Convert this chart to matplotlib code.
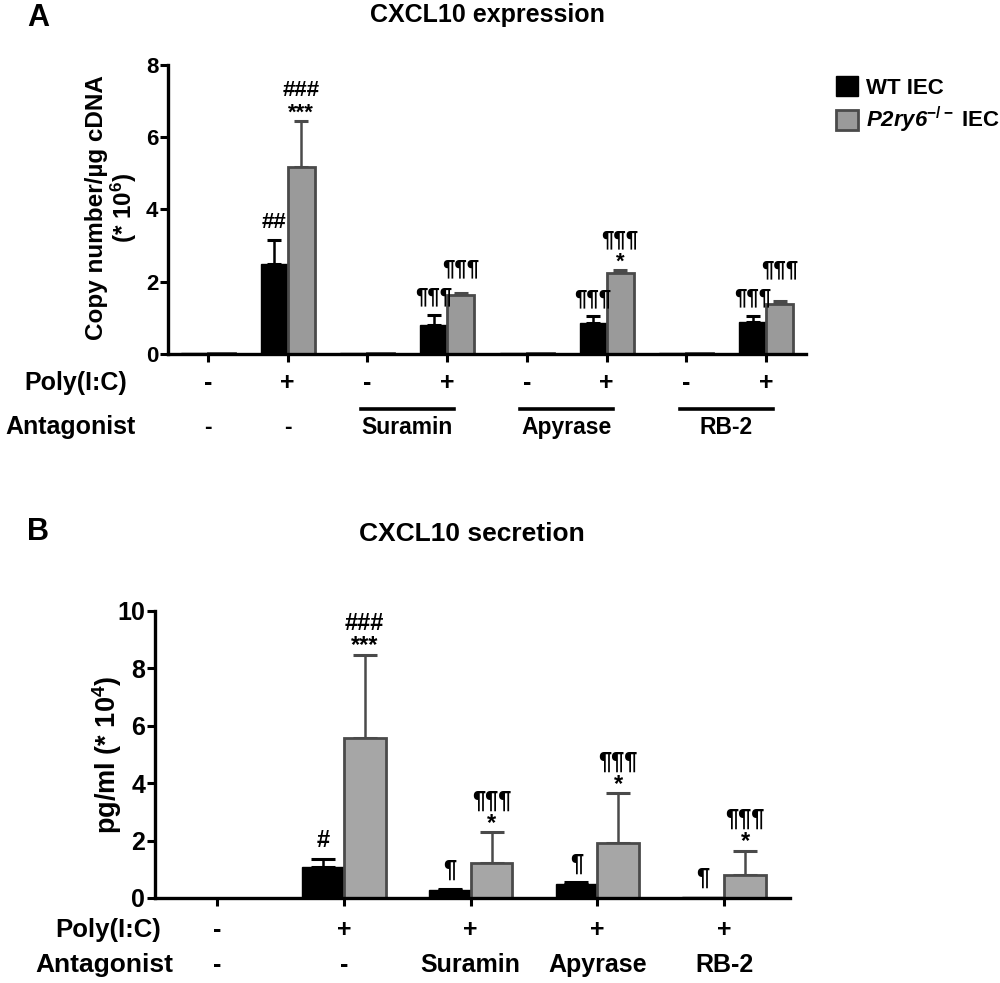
import numpy as np
import matplotlib
matplotlib.use("Agg")
import matplotlib.pyplot as plt
from matplotlib.patches import Patch

plt.rcParams['font.family'] = ['Liberation Sans', 'DejaVu Sans']
plt.rcParams['font.weight'] = 'bold'
plt.rcParams['mathtext.fontset'] = 'custom'
plt.rcParams['mathtext.rm'] = 'Liberation Sans:bold'
plt.rcParams['mathtext.bf'] = 'Liberation Sans:bold'
plt.rcParams['mathtext.it'] = 'Liberation Sans:bold:italic'
plt.rcParams['mathtext.sf'] = 'Liberation Sans:bold:italic'

# ---- panel A data: CXCL10 expression (copy number / ug cDNA, x 10^6)
a_poly = ['-', '+', '-', '+', '-', '+', '-', '+']
a_antag = ['-', '-', 'Suramin', 'Apyrase', 'RB-2']
a_wt = [0.02, 2.50, 0.03, 0.79, 0.02, 0.86, 0.02, 0.88]
a_wt_err = [0, 0.65, 0, 0.30, 0, 0.19, 0, 0.18]
a_ko = [0.02, 5.16, 0.02, 1.63, 0.02, 2.24, 0.02, 1.38]
a_ko_err = [0, 1.30, 0, 0.06, 0, 0.08, 0, 0.09]
a_wt_marks = ['', '##', '', '¶¶¶', '', '¶¶¶', '', '¶¶¶']
a_ko_star = ['', '***', '', '', '', '*', '', '']
a_ko_marks = ['', '###', '', '¶¶¶', '', '¶¶¶', '', '¶¶¶']

# ---- panel B data: CXCL10 secretion (pg/ml, x 10^4)
b_poly = ['-', '+', '+', '+', '+']
b_antag = ['-', '-', 'Suramin', 'Apyrase', 'RB-2']
b_wt = [0.0, 1.09, 0.29, 0.49, 0.03]
b_wt_err = [0, 0.26, 0.02, 0.06, 0]
b_ko = [0.0, 5.58, 1.22, 1.92, 0.81]
b_ko_err = [0, 2.90, 1.07, 1.73, 0.84]
b_wt_marks = ['', '#', '¶', '¶', '¶']
b_ko_star = ['', '***', '*', '*', '*']
b_ko_marks = ['', '###', '¶¶¶', '¶¶¶', '¶¶¶']

GRAY_A = '#9a9a9a'
GRAY_B = '#a6a6a6'
EDGE = '#4a4a4a'
DPI = 100

fig = plt.figure(figsize=(10, 9.83), dpi=DPI)
axA = fig.add_axes([0.168, 0.640, 0.638, 0.294])
axB = fig.add_axes([0.155, 0.0865, 0.635, 0.292])


def style_axis(ax, ymax, step, labelsize):
    for s in ['top', 'right']:
        ax.spines[s].set_visible(False)
    for s in ['left', 'bottom']:
        ax.spines[s].set_linewidth(2.4)
    ax.set_ylim(0, ymax)
    ax.set_yticks(np.arange(0, ymax + 0.01, step))
    ax.tick_params(axis='both', direction='out', length=6, width=2.2,
                   labelsize=labelsize, pad=1)
    ax.set_xticklabels([])


def draw_bars(ax, wt, wt_err, ko, ko_err, w, gray, cap, fs,
              wt_marks, ko_star, ko_marks):
    x = np.arange(len(wt))
    ax.bar(x - w / 2, wt, width=w, color='black', edgecolor='black',
           linewidth=1.0, zorder=2)
    ax.bar(x + w / 2, ko, width=w, color=gray, edgecolor=EDGE,
           linewidth=2.0, zorder=2)
    wt_err = np.array(wt_err)
    ko_err = np.array(ko_err)
    m = wt_err > 0
    ax.errorbar(x[m] - w / 2, np.array(wt)[m],
                yerr=[np.zeros(m.sum()), wt_err[m]], fmt='none',
                ecolor='black', elinewidth=1.8, capsize=cap, capthick=2.2,
                zorder=1)
    m = ko_err > 0
    ax.errorbar(x[m] + w / 2, np.array(ko)[m],
                yerr=[np.zeros(m.sum()), ko_err[m]], fmt='none',
                ecolor=EDGE, elinewidth=1.8, capsize=cap, capthick=2.2,
                zorder=1)
    pt = DPI / 72.0
    for i in range(len(wt)):
        top_wt = wt[i] + wt_err[i]
        top_ko = ko[i] + ko_err[i]
        if wt_marks[i]:
            ax.annotate(wt_marks[i], (i - w / 2, top_wt), xytext=(0, 5),
                        textcoords='offset points', ha='center', va='bottom',
                        fontsize=fs)
        off = 5
        base = top_ko
        if ko_star[i]:
            ax.annotate(ko_star[i], (i + w / 2, top_ko), xytext=(0, -2),
                        textcoords='offset points', ha='center', va='bottom',
                        fontsize=fs)
            off = 14
        elif wt_marks[i]:
            # keep the KO mark clear of the neighbouring WT mark
            y_ko = ax.transData.transform((0, top_ko))[1] + off * pt
            y_wt = ax.transData.transform((0, top_wt))[1] + 25 * pt
            if y_wt > y_ko:
                base, off = top_wt, 25
        if ko_marks[i]:
            ax.annotate(ko_marks[i], (i + w / 2, base), xytext=(0, off),
                        textcoords='offset points', ha='center', va='bottom',
                        fontsize=fs)


# ---- panel A
style_axis(axA, 8, 2, 16)
axA.set_xlim(-0.5, len(a_wt) - 0.5)
axA.set_xticks(np.arange(len(a_wt)))
draw_bars(axA, a_wt, a_wt_err, a_ko, a_ko_err, 0.34, GRAY_A, 5, 16,
          a_wt_marks, a_ko_star, a_ko_marks)
tA = axA.get_xaxis_transform()
for i, p in enumerate(a_poly):
    axA.text(i, -0.10, p, transform=tA, ha='center', va='center', fontsize=18)
ant_pos = [0, 1, 2.5, 4.5, 6.5]
for xp, lab in zip(ant_pos, a_antag):
    axA.text(xp, -0.255, lab, transform=tA, ha='center', va='center',
             fontsize=16.5)
    if lab != '-':
        axA.plot([xp - 0.58, xp + 0.58], [-0.192, -0.192], transform=tA,
                 color='black', lw=2.6, clip_on=False)
fig.text(0.076, 1 - 383 / 983, 'Poly(I:C)', ha='center', va='center',
         fontsize=18)
fig.text(0.071, 1 - 427 / 983, 'Antagonist', ha='center', va='center',
         fontsize=18)
fig.text(0.112, 1 - 208 / 983, 'Copy number/µg cDNA\n(* 10$^6$)',
         rotation=90, ha='center', va='center', fontsize=17.5,
         linespacing=1.0)
fig.text(0.487, 1 - 15 / 983, 'CXCL10 expression', ha='center',
         va='center', fontsize=18)
fig.text(0.038, 1 - 18 / 983, 'A', ha='center', va='center', fontsize=22)

# ---- panel B
style_axis(axB, 10, 2, 18)
axB.set_xlim(-0.49, len(b_wt) - 0.48)
axB.set_xticks(np.arange(len(b_wt)))
draw_bars(axB, b_wt, b_wt_err, b_ko, b_ko_err, 0.33, GRAY_B, 8.5, 17,
          b_wt_marks, b_ko_star, b_ko_marks)
tB = axB.get_xaxis_transform()
for i, p in enumerate(b_poly):
    axB.text(i, -0.111, p, transform=tB, ha='center', va='center',
             fontsize=18)
for i, lab in enumerate(b_antag):
    axB.text(i, -0.233, lab, transform=tB, ha='center', va='center',
             fontsize=18)
fig.text(0.108, 1 - 930 / 983, 'Poly(I:C)', ha='center', va='center',
         fontsize=18.5)
fig.text(0.104, 1 - 965 / 983, 'Antagonist', ha='center', va='center',
         fontsize=19)
fig.text(0.107, 1 - 755 / 983, 'pg/ml (* 10$^4$)', rotation=90,
         ha='center', va='center', fontsize=19.5)
fig.text(0.472, 1 - 534 / 983, 'CXCL10 secretion', ha='center',
         va='center', fontsize=19)
fig.text(0.038, 1 - 532 / 983, 'B', ha='center', va='center', fontsize=22)

# ---- legend
handles = [Patch(facecolor='black', edgecolor='black', linewidth=1.0),
           Patch(facecolor=GRAY_A, edgecolor=EDGE, linewidth=2.0)]
labels = ['WT IEC', r'$\mathsf{P2ry6}^{-/-}$ IEC']
fig.legend(handles, labels, loc='upper left',
           bbox_to_anchor=(0.836, 1 - 76 / 983), frameon=False, fontsize=16,
           handlelength=1.0, handleheight=1.0, handletextpad=0.35,
           labelspacing=0.3, borderpad=0, borderaxespad=0)

fig.savefig('out.png', dpi=DPI)
